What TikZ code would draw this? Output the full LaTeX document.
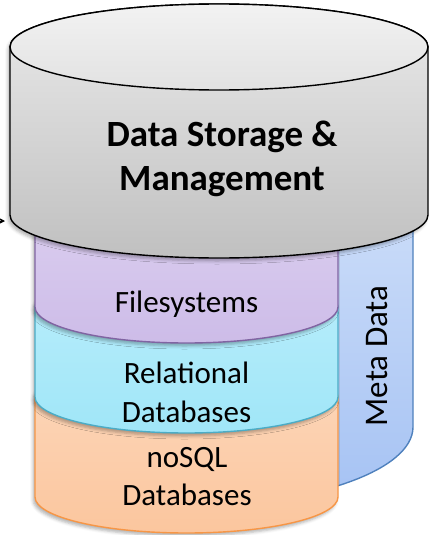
\documentclass[tikz,border=0pt]{standalone}
\usepackage{fontspec}
\setmainfont{Carlito}
\usetikzlibrary{arrows.meta,shadows.blur}

\definecolor{grayTop}{RGB}{234,234,234}
\definecolor{grayBot}{RGB}{192,192,192}
\definecolor{lidTop}{RGB}{242,242,242}
\definecolor{lidBot}{RGB}{226,226,226}
\definecolor{fsTop}{RGB}{222,210,241}
\definecolor{fsBot}{RGB}{205,188,232}
\definecolor{fsLine}{RGB}{128,100,162}
\definecolor{rdbTop}{RGB}{186,238,251}
\definecolor{rdbBot}{RGB}{160,230,248}
\definecolor{rdbLine}{RGB}{75,172,198}
\definecolor{nsTop}{RGB}{253,216,188}
\definecolor{nsBot}{RGB}{251,198,158}
\definecolor{nsLine}{RGB}{247,150,70}
\definecolor{mdTop}{RGB}{204,221,249}
\definecolor{mdBot}{RGB}{165,194,243}
\definecolor{mdLine}{RGB}{79,129,189}

\begin{document}
\begin{tikzpicture}[x=1pt,y=-1pt,
  layer/.style={line width=1.4pt,
    blur shadow={shadow xshift=-2pt,shadow yshift=-3pt,
                 shadow blur radius=3pt,shadow opacity=30}},
  label/.style={font=\fontsize{31}{38}\selectfont,align=center,anchor=base,inner sep=0pt}
]
\useasboundingbox (0,0) rectangle (429,535);

% meta data column behind the stack
\draw[line width=1.4pt,draw=mdLine,top color=mdTop,bottom color=mdBot]
  (186.5,200) -- (413,200) -- (413,427)
  arc[start angle=0,end angle=90,x radius=226.5,y radius=79] -- cycle;

% noSQL layer
\draw[layer,draw=nsLine,top color=nsTop,bottom color=nsBot]
  (35,397) -- (35,497) arc[start angle=180,end angle=0,x radius=151.5,y radius=36]
  -- (338,397) arc[start angle=0,end angle=-180,x radius=151.5,y radius=36] -- cycle;

% relational layer
\draw[layer,draw=rdbLine,top color=rdbTop,bottom color=rdbBot]
  (35,307) -- (35,397) arc[start angle=180,end angle=0,x radius=151.5,y radius=36]
  -- (338,307) arc[start angle=0,end angle=-180,x radius=151.5,y radius=36] -- cycle;

% filesystem layer
\draw[layer,draw=fsLine,top color=fsTop,bottom color=fsBot]
  (35,215) -- (35,307) arc[start angle=180,end angle=0,x radius=151.5,y radius=36]
  -- (338,215) arc[start angle=0,end angle=-180,x radius=151.5,y radius=36] -- cycle;

% storage & management cylinder
\draw[layer,draw=black,top color=grayTop,bottom color=grayBot]
  (10,47) -- (10,215) arc[start angle=180,end angle=0,x radius=209,y radius=43]
  -- (428,47) arc[start angle=0,end angle=-180,x radius=209,y radius=43] -- cycle;
\draw[line width=1.4pt,draw=black,top color=lidTop,bottom color=lidBot]
  (219,47) ellipse[x radius=209,y radius=43];

% incoming arrow on the left
\coordinate (inTail) at (-8,221);
\coordinate (inTip) at (5,221);
\draw[line width=1pt,-{Stealth[length=6pt,width=6pt]}] (inTail) -- (inTip);

% labels
\node[label,font=\bfseries\fontsize{37}{44}\selectfont] (dsm) at (222,190)
  {Data Storage \&\\Management};
\node[label] (fs) at (186.5,312) {Filesystems};
\node[label,font=\fontsize{31}{39}\selectfont] (rdb) at (186.5,422) {Relational\\Databases};
\node[label] (nosql) at (187,505) {noSQL\\Databases};
\node[label,font=\fontsize{33}{40}\selectfont,rotate=90] (meta) at (387,356) {Meta Data};
\end{tikzpicture}
\end{document}
